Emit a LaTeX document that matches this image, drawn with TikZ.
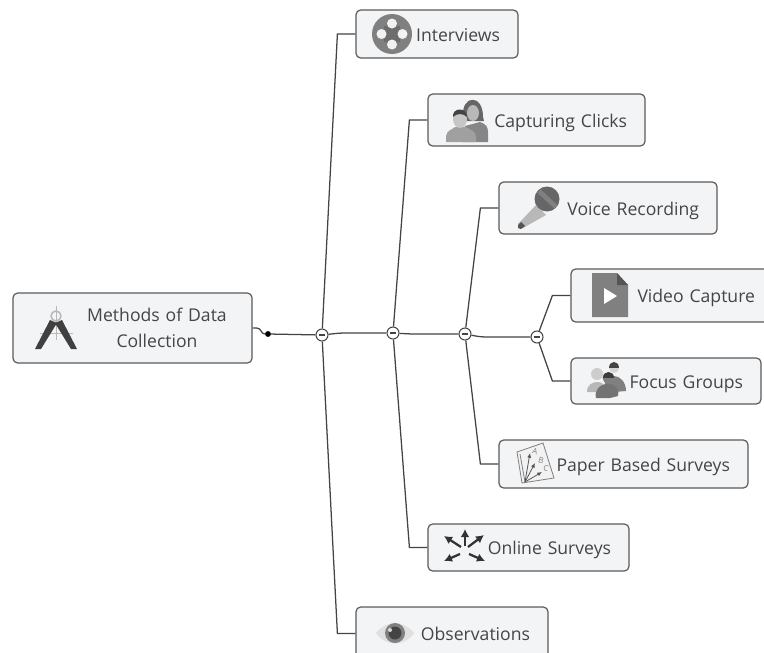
\documentclass[tikz,border=0pt]{standalone}
\usepackage{fontspec}
\setmainfont{Open Sans}
\usetikzlibrary{positioning, arrows, arrows.meta}
\definecolor{boxfill}{HTML}{F3F4F6}
\definecolor{boxline}{HTML}{5A5A5A}
\definecolor{wire}{HTML}{444444}
\definecolor{inktext}{HTML}{454545}
\definecolor{icondark}{HTML}{555555}
\definecolor{iconmid}{HTML}{808080}
\definecolor{iconlight}{HTML}{B8B8B8}
\tikzset{
    topic/.style={draw=boxline, fill=boxfill, line width=.9pt, rounded corners=3.5pt, inner xsep=13.5pt, align=right, text=inktext, font=\fontsize{13.2}{16}\selectfont, text height=13pt, text depth=2pt},
    rootbox/.style={draw=boxline, fill=boxfill, line width=.9pt, rounded corners=3.5pt, inner xsep=10pt, align=center, text=inktext, font=\fontsize{13.2}{19}\selectfont},
    knob/.style={circle, draw=wire, fill=white, line width=.8pt, minimum size=9pt, inner sep=0pt, path picture={\draw[wire, line width=.9pt] (-2.6pt, 0) -- (2.6pt, 0);}},
    wireline/.style={draw=wire, line width=.95pt},
}
\begin{document}
\begin{tikzpicture}[x=.75pt, y=-.75pt]
    \useasboundingbox (0, 0) rectangle (764, 653);
    \clip (0, 0) rectangle (764, 653);

    \node (root) [rootbox, text width=159.25pt, minimum height=52.5pt] at (132.5, 328) {\hspace*{36.75pt}Methods of Data\\\hspace*{36.75pt}Collection};
    \node (interviews) [topic, text width=94.5pt, minimum height=36pt] at (437, 34) {Interviews};
    \node (clicks) [topic, text width=135.75pt, minimum height=39pt] at (536.5, 120) {Capturing Clicks};
    \node (voice) [topic, text width=136.5pt, minimum height=39pt] at (608, 208) {Voice Recording};
    \node (video) [topic, text width=124.5pt, minimum height=39.75pt] at (672, 295.5) {Video Capture};
    \node (focus) [topic, text width=115.5pt, minimum height=34.5pt] at (666, 381) {Focus Groups};
    \node (paper) [topic, text width=159.75pt, minimum height=36pt] at (623.5, 464) {Paper Based Surveys};
    \node (online) [topic, text width=123.75pt, minimum height=35.25pt] at (528.5, 547.5) {Online Surveys};
    \node (observations) [topic, text width=117pt, minimum height=39.75pt] at (452, 633.5) {Observations};

    \node (dot) [circle, fill=black, minimum size=4.4pt, inner sep=0pt] at (268, 334) {};
    \node (knob1) [knob] at (322, 335) {};
    \node (knob2) [knob] at (393, 333) {};
    \node (knob3) [knob] at (465, 334) {};
    \node (knob4) [knob] at (537, 337) {};

    \draw [wireline] (root.east) -- ++(4, 0) .. controls ++(5, 0) and ++(-4, 0) .. (dot.west);
    \draw [wireline] (dot) -- (knob1);
    \draw [wireline, rounded corners=4pt] (knob1) -- ++(18, -2) -- (knob2);
    \draw [wireline, rounded corners=4pt] (knob2) -- ++(18, 1) -- (knob3);
    \draw [wireline, rounded corners=4pt] (knob3) -- ++(16, 3) -- (knob4);

    \draw [wireline] (knob1) -- ([xshift=-13.5pt]interviews.west) -- (interviews.west);
    \draw [wireline] (knob1) -- ([xshift=-13.5pt]observations.west) -- (observations.west);
    \draw [wireline] (knob2) -- ([xshift=-13.5pt]clicks.west) -- (clicks.west);
    \draw [wireline] (knob2) -- ([xshift=-13.5pt]online.west) -- (online.west);
    \draw [wireline] (knob3) -- ([xshift=-13.5pt]voice.west) -- (voice.west);
    \draw [wireline] (knob3) -- ([xshift=-13.5pt]paper.west) -- (paper.west);
    \draw [wireline] (knob4) -- ([xshift=-13.5pt]video.west) -- (video.west);
    \draw [wireline] (knob4) -- ([xshift=-13.5pt]focus.west) -- (focus.west);

    % compasses
    \draw [iconlight, line width=.7pt] (40, 333) -- (73, 333);
    \draw [iconlight, line width=.7pt] (56, 306) -- (56, 340);
    \draw [iconlight, line width=1.1pt] (56, 316) circle (5);
    \fill [icondark!75!black] (50, 320) -- (57, 323) -- (41, 349) -- (35, 349) -- cycle;
    \fill [icondark!75!black] (62, 320) -- (55, 323) -- (71, 349) -- (77, 349) -- cycle;

    % reel
    \fill [iconmid] (392, 34) circle (20);
    \fill [iconmid!85!black] (384, 26) rectangle (400, 42);
    \foreach \ang in {0, 90, 180, 270} {
        \fill [white!95!black] (392, 34) ++(\ang:10.5) circle (5);
    }

    % two people
    \fill [icondark!90] (463, 117) .. controls (461, 95) and (483, 93) .. (483, 117) -- (484, 121) -- (462, 121) -- cycle;
    \fill [iconlight] (473, 113) ellipse (6 and 8);
    \fill [iconmid!95] (465, 126) -- (480, 122) .. controls (486, 124) and (488, 127) .. (488, 132) -- (488, 142) -- (462, 142) -- cycle;
    \fill [iconmid!75] (446, 142) -- (446, 136) .. controls (447, 130) and (452, 130) .. (455, 127) -- (466, 127) .. controls (470, 130) and (475, 130) .. (476, 136) -- (476, 142) -- cycle;
    \fill [iconlight!80] (460, 119) ellipse (7 and 9);
    \fill [icondark!80!black] (453, 117) .. controls (452, 107) and (467, 107) .. (467, 117) .. controls (463, 113) and (457, 113) .. cycle;

    % microphone
    \fill [iconlight] (536, 205) -- (546, 215) -- (523, 228) -- (518, 224) -- cycle;
    \fill [icondark] (521, 222) -- (525, 226) -- (521, 229) -- (518, 228) -- (518, 225) -- cycle;
    \fill [icondark!90] (547, 199) circle (12.5);
    \draw [iconmid, line width=3.5pt] (539, 191) -- (556, 207);

    % video file
    \fill [iconmid] (592, 273) -- (617, 273) -- (628, 285) -- (628, 317) -- (592, 317) -- cycle;
    \fill [icondark] (617, 273) -- (628, 285) -- (617, 285) -- cycle;
    \fill [white] (604, 288) -- (617, 296) -- (604, 304) -- cycle;

    % group of people
    \fill [iconlight] (587, 392) .. controls (587, 384) and (593, 382) .. (598, 382) .. controls (603, 382) and (606, 386) .. (606, 392) -- cycle;
    \fill [iconlight!70] (597, 374) circle (6);
    \fill [iconmid] (604, 386) .. controls (606, 378) and (610, 376) .. (614, 376) .. controls (620, 376) and (626, 382) .. (626, 391) -- (614, 392) -- cycle;
    \fill [iconlight!60] (614, 368) circle (5);
    \fill [icondark!80!black] (609, 368) .. controls (609, 360) and (619, 360) .. (619, 368) -- cycle;
    \fill [iconmid!90!black] (596, 398) .. controls (594, 390) and (600, 384) .. (608, 384) .. controls (616, 384) and (620, 390) .. (618, 396) -- (610, 398) -- cycle;
    \fill [iconmid] (608, 378) circle (5.5);
    \fill [icondark!70!black] (602.5, 378) .. controls (602.5, 370) and (613.5, 370) .. (613.5, 378) -- cycle;

    % sheet with arrows
    \draw [iconmid, fill=white!95!black, line width=.6pt] (517, 452) -- (543, 443) -- (554, 478) -- (522, 483) -- cycle;
    \draw [iconmid, line width=.6pt] (520, 454) -- (525, 482);
    \draw [-{Latex[length=3.5pt, width=3pt]}, icondark, line width=.6pt] (525, 482) -- (530, 453);
    \draw [-{Latex[length=3.5pt, width=3pt]}, icondark, line width=.6pt] (525, 482) -- (535, 463);
    \draw [-{Latex[length=3.5pt, width=3pt]}, icondark, line width=.6pt] (525, 482) -- (542, 472);
    \node (letterA) [text=iconmid, font=\fontsize{6}{6}\selectfont, inner sep=0pt, rotate=-15] at (535, 451) {A};
    \node (letterB) [text=iconmid, font=\fontsize{6}{6}\selectfont, inner sep=0pt, rotate=-15] at (541, 460) {B};
    \node (letterC) [text=iconmid, font=\fontsize{6}{6}\selectfont, inner sep=0pt, rotate=-15] at (546, 468) {C};

    % five arrows
    \draw [-{Latex[length=6pt, width=6.5pt]}, black!80, line width=1.7pt] (465, 546) -- (465, 529);
    \draw [-{Latex[length=6pt, width=6.5pt]}, black!80, line width=1.7pt] (468, 547) -- (484, 535);
    \draw [-{Latex[length=6pt, width=6.5pt]}, black!80, line width=1.7pt] (461, 547) -- (444, 536);
    \draw [-{Latex[length=6pt, width=6.5pt]}, black!80, line width=1.7pt] (460, 554) -- (444, 561);
    \draw [-{Latex[length=6pt, width=6.5pt]}, black!80, line width=1.7pt] (469, 554) -- (485, 561);

    % eye
    \fill [black!12] (376, 633) .. controls (386, 620) and (404, 620) .. (414, 633) .. controls (404, 647) and (386, 647) .. cycle;
    \fill [iconmid] (395, 633) circle (10);
    \fill [icondark!80!black] (395, 633) circle (6.5);
    \fill [white!85!black] (390, 630) circle (2);
\end{tikzpicture}
\end{document}
